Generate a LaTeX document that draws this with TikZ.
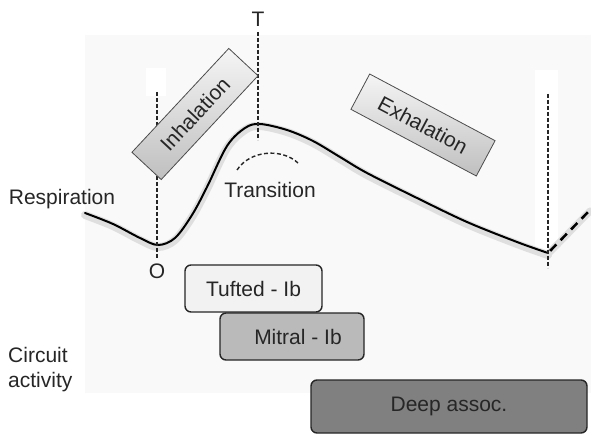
\documentclass[tikz,border=0pt]{standalone}
\usepackage{fontspec}
\setmainfont{Liberation Sans}
\begin{document}
\begin{tikzpicture}[x=1pt,y=-1pt,
  every node/.style={font=\fontsize{21}{25}\selectfont, text=black!85, inner sep=0pt},
  vdash/.style={black!85, line width=1.4pt, dash pattern=on 4pt off 2pt},
  phasebox/.style={draw=black!70, line width=0.8pt, top color=gray!8, bottom color=gray!50, minimum width=142pt, minimum height=40pt},
  actbox/.style={draw=black!85, line width=1.4pt, rounded corners=6pt}
]
\useasboundingbox (0,0) rectangle (591,435);
% background panel
\fill[black!2.5] (85,35) rectangle (591,393);
\fill[white] (146,68) rectangle (166,96);
\fill[white] (535,70) rectangle (558,250);

% respiration curve with soft shadow
\draw[gray!25, line width=8pt, line cap=round, yshift=-2pt] plot[smooth, tension=0.55] coordinates {(85,213) (113,224) (140,238) (158,245) (175,238) (192,215) (207,187) (227,146) (245,128) (260,124) (287,130) (313,141) (340,157) (367,173) (417,198) (467,222) (517,242) (548,253)};
\draw[gray!25, line width=7pt, line cap=round] (550,252) -- (590,211);
\draw[black, line width=2pt, line cap=round] plot[smooth, tension=0.55] coordinates {(85,213) (113,224) (140,238) (158,245) (175,238) (192,215) (207,187) (227,146) (245,128) (260,124) (287,130) (313,141) (340,157) (367,173) (417,198) (467,222) (517,242) (548,253)};
\coordinate (e0) at (548,253);
\coordinate (e1) at (591,209);
\draw[black, line width=2.6pt, dash pattern=on 9pt off 6pt, dash phase=-3pt] (e0) -- (e1);

% vertical dashed markers
\coordinate (o1) at (157,92);
\coordinate (o2) at (157,258);
\coordinate (t1) at (258,32);
\coordinate (t2) at (258,140);
\coordinate (x1) at (548,94);
\coordinate (x2) at (548,268);
\draw[vdash] (o1) -- (o2);
\draw[vdash] (t1) -- (t2);
\draw[vdash] (x1) -- (x2);

\node (T) at (258,19) {T};
\node (O) at (157,271) {O};

% transition arc
\coordinate (a1) at (237,170);
\coordinate (a2) at (298,163);
\draw[black!85, line width=1.4pt, dash pattern=on 4pt off 2.5pt] (a1) .. controls (250,150) and (282,148) .. (a2);
\node (trans) at (270,190) {Transition};

% phase boxes
\node[phasebox, rotate=47] (inh) at (195,114) {Inhalation};
\node[phasebox, rotate=-28] (exh) at (423,125) {Exhalation};

% left labels
\node (resp) at (62,199) {Respiration};
\node[anchor=west, align=left] (circ) at (8,370) {Circuit\\activity};

% activity boxes
\node[actbox, fill=black!5, minimum width=137pt, minimum height=47pt] (tuf) at (253.5,288.5) {Tufted - Ib};
\node[actbox, fill=black!27, minimum width=144pt, minimum height=47pt] (mit) at (292,336.5) {\hspace*{12pt}Mitral - Ib};
\node[actbox, fill=black!50, minimum width=276pt, minimum height=53pt] (deep) at (449,406.5) {Deep assoc.};
\end{tikzpicture}
\end{document}
